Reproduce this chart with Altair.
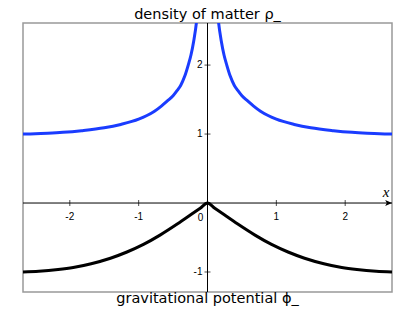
import altair as alt
import pandas as pd

# --- values ---
X_MIN, X_MAX = -2.68, 2.68
Y_MIN, Y_MAX = -1.29, 2.61

rho_x_right = [0.12, 0.16, 0.20, 0.24, 0.28, 0.33, 0.39, 0.44, 0.50, 0.58, 0.67, 0.77, 0.88, 1.00, 1.26, 1.50, 1.83, 2.10, 2.32, 2.50, 2.68]
rho_y_right = [3.10, 2.625, 2.35, 2.146, 2.00, 1.84, 1.705, 1.632, 1.555, 1.483, 1.406, 1.331, 1.269, 1.215, 1.139, 1.090, 1.049, 1.025, 1.012, 1.004, 1.00]
rho_x_left = [-2.68, -2.50, -2.32, -2.10, -1.83, -1.50, -1.26, -1.00, -0.88, -0.77, -0.67, -0.58, -0.50, -0.44, -0.39, -0.33, -0.28, -0.24, -0.20, -0.16, -0.12]
rho_y_left = [1.00, 1.004, 1.012, 1.025, 1.049, 1.090, 1.139, 1.215, 1.269, 1.331, 1.406, 1.483, 1.555, 1.632, 1.705, 1.84, 2.00, 2.146, 2.35, 2.625, 3.10]

phi_x = [-2.68, -2.45, -2.17, -1.95, -1.69, -1.41, -1.17, -0.93, -0.69, -0.44, -0.25, -0.106, 0.0,
         0.106, 0.25, 0.44, 0.69, 0.93, 1.17, 1.41, 1.69, 1.95, 2.17, 2.45, 2.68]
phi_y = [-1.00, -0.99, -0.965, -0.935, -0.88, -0.80, -0.71, -0.60, -0.465, -0.305, -0.175, -0.075, 0.0,
         -0.075, -0.175, -0.305, -0.465, -0.60, -0.71, -0.80, -0.88, -0.935, -0.965, -0.99, -1.00]

x_ticks = [-2, -1, 1, 2]
x_tick_labels = ["-2", "-1", "1", "2"]
y_ticks = [-1, 1, 2]
y_tick_labels = ["-1", "1", "2"]

title_top = "density of matter ρ_"
title_bottom = "gravitational potential ϕ_"

BLUE = "#1a3cff"
FONT = "Liberation Sans"
TITLE_FONT = "DejaVu Sans"
W, H = 369, 269

rows = []
for xv, yv in zip(rho_x_left, rho_y_left):
    rows.append({"x": xv, "y": yv, "series": "rho", "branch": "rho_left"})
for xv, yv in zip(rho_x_right, rho_y_right):
    rows.append({"x": xv, "y": yv, "series": "rho", "branch": "rho_right"})
for xv, yv in zip(phi_x, phi_y):
    rows.append({"x": xv, "y": yv, "series": "phi", "branch": "phi"})
curves = pd.DataFrame(rows)

xs = alt.Scale(domain=[X_MIN, X_MAX], nice=False, zero=False)
ys = alt.Scale(domain=[Y_MIN, Y_MAX], nice=False, zero=False)


def X(field):
    return alt.X(field, type="quantitative", scale=xs, axis=None)


def Y(field):
    return alt.Y(field, type="quantitative", scale=ys, axis=None)


xaxis_rule = alt.Chart(pd.DataFrame({"x": [X_MIN], "x2": [X_MAX], "y": [0]})).mark_rule(
    color="black", strokeWidth=1).encode(x=X("x"), x2="x2", y=Y("y"))
yaxis_rule = alt.Chart(pd.DataFrame({"x": [0], "y": [Y_MIN], "y2": [Y_MAX]})).mark_rule(
    color="black", strokeWidth=1).encode(x=X("x"), y=Y("y"), y2="y2")

xt = pd.DataFrame({"x": x_ticks, "y": [0] * len(x_ticks), "label": x_tick_labels})
yt = pd.DataFrame({"x": [0] * len(y_ticks), "y": y_ticks, "label": y_tick_labels})
zero = pd.DataFrame({"x": [0], "y": [0], "label": ["0"]})

xtick_marks = alt.Chart(xt).mark_tick(orient="vertical", size=6, thickness=1, color="black").encode(x=X("x"), y=Y("y"))
ytick_marks = alt.Chart(yt).mark_tick(orient="horizontal", size=6, thickness=1, color="black").encode(x=X("x"), y=Y("y"))

xtick_text = alt.Chart(xt).mark_text(font=FONT, fontSize=10, dy=14, baseline="middle", align="center",
                                     color="black").encode(x=X("x"), y=Y("y"), text="label:N")
ytick_text = alt.Chart(yt).mark_text(font=FONT, fontSize=10, dx=-5, baseline="middle", align="right",
                                     color="black").encode(x=X("x"), y=Y("y"), text="label:N")
zero_text = alt.Chart(zero).mark_text(font=FONT, fontSize=10, dx=-7, dy=15, baseline="middle", align="center",
                                      color="black").encode(x=X("x"), y=Y("y"), text="label:N")

lines = alt.Chart(curves).mark_line(clip=True, interpolate="monotone", strokeWidth=3).encode(
    x=X("x"), y=Y("y"),
    color=alt.Color("series:N", scale=alt.Scale(domain=["rho", "phi"], range=[BLUE, "black"]), legend=None),
    detail="branch:N",
)

arrow = alt.Chart(pd.DataFrame({"x": [X_MAX], "y": [0]})).mark_point(
    shape="M0,0 L-1.7,-0.75 L-1.3,0 L-1.7,0.75 Z", size=64, filled=True, color="black", opacity=1, strokeWidth=0
).encode(x=X("x"), y=Y("y"))

xlabel = alt.Chart(pd.DataFrame({"x": [X_MAX], "y": [0], "label": ["x"]})).mark_text(
    font="Liberation Serif", fontStyle="italic", fontSize=15, dx=-6, dy=-11, baseline="middle", align="center",
    color="black"
).encode(x=X("x"), y=Y("y"), text="label:N")

top_title = alt.Chart(pd.DataFrame({"t": [title_top]})).mark_text(
    font=TITLE_FONT, fontSize=14.5, baseline="alphabetic", align="center", color="black"
).encode(x=alt.value(W / 2), y=alt.value(-3.6), text="t:N")

bottom_title = alt.Chart(pd.DataFrame({"t": [title_bottom]})).mark_text(
    font=TITLE_FONT, fontSize=14.5, baseline="alphabetic", align="center", color="black"
).encode(x=alt.value(W / 2), y=alt.value(H + 10.5), text="t:N")

chart = alt.layer(
    xaxis_rule, yaxis_rule, lines, xtick_marks, ytick_marks, xtick_text, ytick_text, zero_text, arrow, xlabel,
    top_title, bottom_title
).properties(
    width=W, height=H,
    autosize=alt.AutoSizeParams(type="none"),
    padding={"left": 15, "top": 15, "right": 15, "bottom": 15},
).configure_view(stroke="#999999", strokeWidth=1.5)

chart.save("out.html", embed_options={"renderer": "svg", "actions": False})
